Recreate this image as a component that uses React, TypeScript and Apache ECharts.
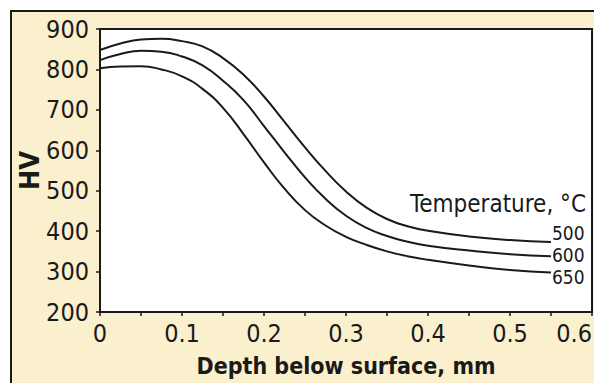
import React, { useEffect, useRef } from "react";
import * as echarts from "echarts";

// Depth below surface (mm), shared by the three tempering curves
const depth = [0, 0.025, 0.05, 0.075, 0.1, 0.125, 0.15, 0.175, 0.2, 0.225, 0.25, 0.275, 0.3, 0.325, 0.35, 0.375, 0.4, 0.45, 0.5, 0.55];

// Hardness HV for each tempering temperature
const hv500 = [848, 864, 874, 876, 870, 857, 828, 787, 733, 670, 607, 549, 498, 458, 430, 412, 401, 387, 378, 373];
const hv600 = [823, 838, 846, 844, 832, 810, 772, 724, 660, 595, 533, 480, 438, 408, 388, 374, 364, 352, 343, 338];
const hv650 = [803, 807, 808, 800, 783, 752, 705, 640, 570, 505, 452, 414, 386, 366, 350, 338, 329, 315, 304, 298];

const seriesNames = ["500", "600", "650"];
const xTicks = [0, 0.1, 0.2, 0.3, 0.4, 0.5, 0.6];
const yTicks = [200, 300, 400, 500, 600, 700, 800, 900];

const FONT = "'Liberation Sans Narrow', 'DejaVu Sans Condensed', 'Arial Narrow', sans-serif";
const INK = "#1a1a1a";
const BEIGE = "#fbf0cd";

export default function App() {
  const ref = useRef<HTMLDivElement>(null);

  useEffect(() => {
    if (!ref.current) return;
    const chart = echarts.init(ref.current, undefined, { renderer: "svg" });
    const curves = [hv500, hv600, hv650];
    const labelOffsets = [[0, -9], [0, -1], [0, 5]];

    chart.setOption({
      animation: false,
      backgroundColor: "#ffffff",
      graphic: [
        {
          type: "rect",
          z: -10,
          shape: { x: 11, y: 11, width: 620, height: 420 },
          style: { fill: BEIGE, stroke: INK, lineWidth: 2 },
        },
        {
          type: "text",
          z: 10,
          x: 586,
          y: 204,
          style: {
            text: "Temperature, °C",
            fontFamily: FONT,
            fontSize: 24,
            fill: INK,
            align: "right",
            verticalAlign: "middle",
          },
        },
      ],
      grid: {
        left: 100,
        top: 29,
        right: 2,
        bottom: 71,
        outerBoundsMode: "none",
        show: true,
        backgroundColor: "#ffffff",
        borderColor: INK,
        borderWidth: 2,
      },
      xAxis: {
        type: "value",
        min: 0,
        max: 0.6,
        interval: 0.1,
        name: "Depth below surface, mm",
        nameLocation: "middle",
        nameGap: 42,
        nameMoveOverlap: false,
        nameTextStyle: { fontFamily: FONT, fontSize: 23, fontWeight: "bold", color: INK },
        axisLine: { show: true, lineStyle: { color: INK, width: 2 } },
        axisTick: { show: true, length: 4, lineStyle: { color: INK, width: 1.5 } },
        minorTick: { show: true, splitNumber: 2, length: 4, lineStyle: { color: INK, width: 1.5 } },
        splitLine: { show: false },
        axisLabel: {
          fontFamily: FONT,
          fontSize: 25,
          color: INK,
          margin: 9,
          alignMaxLabel: "right",
          formatter: (v: number) => {
            const t = xTicks.find((x) => Math.abs(x - v) < 1e-9);
            return t === undefined ? "" : t === 0 ? "0" : t.toFixed(1);
          },
        },
      },
      yAxis: {
        type: "value",
        min: 200,
        max: 900,
        interval: 100,
        name: "HV",
        nameLocation: "middle",
        nameGap: 57,
        nameRotate: 90,
        nameMoveOverlap: false,
        nameTextStyle: { fontFamily: FONT, fontSize: 27, fontWeight: "bold", color: INK },
        axisLine: { show: true, lineStyle: { color: INK, width: 2 } },
        axisTick: { show: true, length: 4, lineStyle: { color: INK, width: 1.5 } },
        splitLine: { show: false },
        axisLabel: {
          fontFamily: FONT,
          fontSize: 25,
          color: INK,
          margin: 11,
          formatter: (v: number) => (yTicks.includes(v) ? String(v) : ""),
        },
      },
      series: curves.map((vals, i) => ({
        name: seriesNames[i],
        type: "line",
        smooth: true,
        symbol: "none",
        data: depth.map((d, j) => [d, vals[j]]),
        lineStyle: { color: INK, width: 2 },
        endLabel: {
          show: true,
          formatter: seriesNames[i],
          distance: 1,
          offset: labelOffsets[i],
          fontFamily: FONT,
          fontSize: 19,
          color: INK,
        },
      })),
    });

    return () => chart.dispose();
  }, []);

  return (
    <div
      ref={ref}
      style={{ position: "absolute", left: 0, top: 0, width: 594, height: 383 }}
    />
  );
}
